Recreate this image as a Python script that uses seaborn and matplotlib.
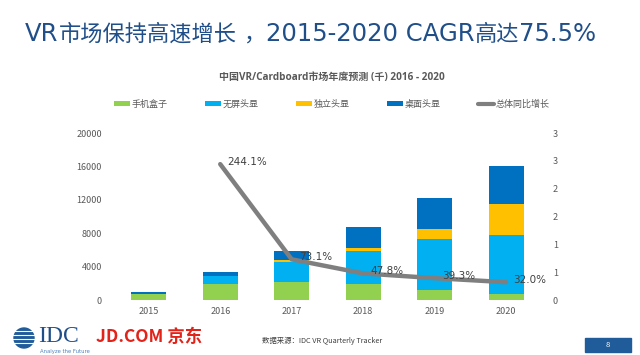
import numpy as np
import pandas as pd
import matplotlib
matplotlib.use("Agg")
import matplotlib.pyplot as plt
import seaborn as sns
from matplotlib.patches import Patch, Circle, Rectangle
from matplotlib.lines import Line2D
from matplotlib.text import Annotation

sns.set_theme(style="white")
plt.rcParams['font.family'] = ['Noto Sans CJK SC', 'DejaVu Sans']
MIX = ['Open Sans', 'Noto Sans CJK SC']

years = ["2015", "2016", "2017", "2018", "2019", "2020"]
phone_box = [750, 1920, 2120, 1880, 1200, 680]
screenless = [0, 1000, 2480, 4000, 6120, 7120]
standalone = [0, 0, 200, 320, 1200, 3680]
desktop = [250, 400, 1080, 2520, 3640, 4600]
growth_years = ["2016", "2017", "2018", "2019", "2020"]
growth = [2.441, 0.731, 0.478, 0.393, 0.320]
growth_labels = ["244.1%", "73.1%", "47.8%", "39.3%", "32.0%"]
series_names = ["手机盒子", "无屏头显", "独立头显", "桌面头显", "总体同比增长"]
colors = ["#92D050", "#00B0F0", "#FFC000", "#0070C0", "#7F7F7F"]

fig = plt.figure(figsize=(6.4, 3.55), dpi=100)
ax = fig.add_axes([0.1766, 0.1549, 0.670, 0.4704])

df = pd.DataFrame({"year": years, "phone": phone_box, "screenless": screenless,
                   "standalone": standalone, "desktop": desktop})
bottom = np.zeros(len(years))
for col, c in zip(["phone", "screenless", "standalone", "desktop"], colors[:4]):
    sns.barplot(data=df, x="year", y=col, color=c, bottom=bottom, width=0.49,
                saturation=1, ax=ax, linewidth=0)
    bottom = bottom + df[col].values

ax.set_ylim(0, 20000)
ax.set_xlim(-0.5, 5.5)
ax.set_yticks([0, 4000, 8000, 12000, 16000, 20000])
ax.set_xlabel("")
ax.set_ylabel("")
for s in ax.spines.values():
    s.set_visible(False)
ax.tick_params(axis="both", length=0, labelsize=6.5, colors="#595959")
ax.tick_params(axis="y", pad=8)
ax.tick_params(axis="x", pad=5)

ax2 = ax.twinx()
gx = [years.index(y) for y in growth_years]
sns.lineplot(x=gx, y=growth, ax=ax2, color=colors[4], linewidth=3.2, solid_capstyle="round")
ax2.set_ylim(0, 3)
ax2.set_yticks([0, 0.5, 1, 1.5, 2, 2.5, 3])
ax2.set_yticklabels(["0", "1", "1", "2", "2", "3", "3"])
for s in ax2.spines.values():
    s.set_visible(False)
ax2.tick_params(axis="y", length=0, labelsize=6.5, colors="#595959", pad=8)
ax2.set_xlim(-0.5, 5.5)
for x, y, t in zip(gx, growth, growth_labels):
    ax2.text(x + 0.1, y + 0.04, t, fontsize=7.5, color="#404040", va="center", ha="left",
             family=["DejaVu Sans"])

# Title, built from pieces so Latin and CJK parts get their own sizes
title_color = "#1F4E89"
base_y = 1 - 41 / 355
LAT, CJK = 17.5, 16
LATF = ["DejaVu Sans"]
pieces = [
    ("市场保持高速增长", ["Noto Sans CJK SC"], CJK),
    (" ", LATF, LAT),
    ("，", ["Noto Sans CJK SC"], CJK),
    ("2015-2020 CAGR", LATF, LAT),
    ("高达", ["Noto Sans CJK SC"], CJK),
    ("75.5%", LATF, LAT),
]
prev = fig.text(25 / 640, base_y, "VR", family=LATF, fontsize=LAT,
                color=title_color, ha="left", va="baseline")
for txt, fam, size in pieces:
    ann = Annotation(txt, xy=(1, base_y), xycoords=(prev, "figure fraction"),
                     family=fam, fontsize=size, color=title_color,
                     ha="left", va="baseline")
    fig.add_artist(ann)
    prev = ann

fig.text(0.519, 0.783, "中国VR/Cardboard市场年度预测 (千) 2016 - 2020", fontsize=7.2,
         color="#595959", ha="center", va="center", fontweight="bold", family=MIX)

# Legend
handles = [Patch(facecolor=c, edgecolor="none") for c in colors[:4]]
handles.append(Line2D([0], [0], color=colors[4], linewidth=3))
leg = fig.legend(handles, series_names, loc="center left", bbox_to_anchor=(0.172, 0.707),
                 ncol=5, frameon=False, fontsize=6.5, handlelength=1.8, handleheight=0.4,
                 handletextpad=0.15, columnspacing=4.15, borderaxespad=0)
for t in leg.get_texts():
    t.set_color("#595959")

# Footer
lax = fig.add_axes([0, 0, 1, 1], zorder=-1)
lax.set_xlim(0, 640)
lax.set_ylim(355, 0)
lax.axis("off")
lax.add_patch(Circle((24, 338), 10, color="#1F5C99"))
for yy in [331, 335, 339, 343]:
    lax.plot([13, 35], [yy, yy], color="white", linewidth=0.8)
lax.text(38, 337, "IDC", fontsize=17, family="Liberation Serif", color="#1F4E89",
         ha="left", va="center")
lax.text(40, 351, "Analyze the Future", fontsize=3.8, color="#4F81BD", ha="left", va="center",
         family=["DejaVu Sans"])
lax.text(96, 337, "JD.COM 京东", fontsize=12.5, color="#E2231A", ha="left", va="center",
         fontweight="bold")
lax.text(262, 341, "数据来源：IDC VR Quarterly Tracker", fontsize=5.3, color="#404040",
         ha="left", va="center")
lax.add_patch(Rectangle((585, 338), 46, 14, color="#1F5C99"))
lax.text(608, 345, "8", fontsize=5.5, color="white", ha="center", va="center")

fig.savefig("out.png", dpi=100)
